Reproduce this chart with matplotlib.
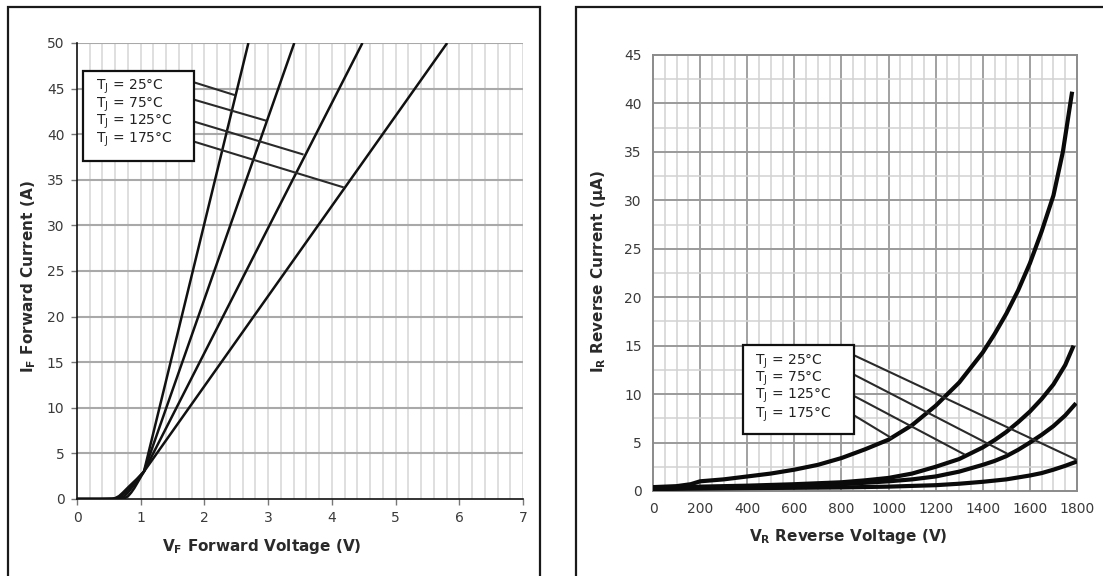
import numpy as np
import matplotlib
matplotlib.use('Agg')
import matplotlib.pyplot as plt
from matplotlib.patches import Rectangle

# forward characteristic, V_F (V) vs I_F (A)
temps = ['25', '75', '125', '175']
vf_25 = [0, 0.5, 0.7, 0.75, 0.8, 0.85, 0.9, 0.95, 1.0, 1.05, 2.69]
if_25 = [0, 0, 0.02, 0.1, 0.3, 0.7, 1.2, 1.8, 2.4, 3.0, 50]
vf_75 = [0, 0.45, 0.65, 0.7, 0.75, 0.8, 0.88, 0.96, 1.05, 3.41]
if_75 = [0, 0, 0.02, 0.12, 0.35, 0.7, 1.4, 2.2, 3.0, 50]
vf_125 = [0, 0.4, 0.6, 0.65, 0.7, 0.76, 0.85, 0.95, 1.05, 4.48]
if_125 = [0, 0, 0.02, 0.12, 0.35, 0.7, 1.4, 2.2, 3.0, 50]
vf_175 = [0, 0.35, 0.55, 0.6, 0.66, 0.72, 0.82, 0.94, 1.05, 5.81]
if_175 = [0, 0, 0.02, 0.1, 0.32, 0.7, 1.4, 2.2, 3.0, 50]

# leader lines left chart: start on box edge, end on curve
lead_l_start = [(1.83, 45.7), (1.83, 43.8), (1.83, 41.4), (1.83, 39.2)]
lead_l_end = [(2.47, 44.3), (2.96, 41.5), (3.54, 37.8), (4.17, 34.2)]

# reverse characteristic, V_R (V) vs I_R (uA)
vr_25 = [0, 200, 400, 600, 800, 1000, 1200, 1300, 1400, 1500, 1600, 1650, 1700, 1750, 1800]
ir_25 = [0.2, 0.25, 0.3, 0.33, 0.37, 0.45, 0.6, 0.75, 0.95, 1.2, 1.6, 1.85, 2.2, 2.6, 3.05]
vr_75 = [0, 200, 400, 600, 800, 1000, 1100, 1200, 1300, 1400, 1450, 1500, 1550, 1600,
         1650, 1700, 1750, 1790]
ir_75 = [0.25, 0.35, 0.45, 0.55, 0.7, 1.0, 1.2, 1.5, 2.0, 2.7, 3.1, 3.6, 4.25, 5.0,
         5.8, 6.7, 7.8, 8.9]
vr_125 = [0, 200, 400, 600, 800, 900, 1000, 1100, 1200, 1300, 1400, 1450, 1500, 1550,
          1600, 1650, 1700, 1750, 1782]
ir_125 = [0.3, 0.45, 0.55, 0.7, 0.9, 1.1, 1.35, 1.8, 2.5, 3.3, 4.5, 5.25, 6.1, 7.1,
          8.2, 9.5, 11.0, 13.0, 14.8]
vr_175 = [0, 100, 160, 200, 300, 400, 500, 600, 700, 800, 900, 1000, 1100, 1200,
          1300, 1400, 1450, 1500, 1550, 1600, 1650, 1700, 1740, 1778]
ir_175 = [0.4, 0.5, 0.7, 1.0, 1.2, 1.5, 1.8, 2.2, 2.7, 3.4, 4.3, 5.3, 6.8, 8.8,
          11.2, 14.3, 16.2, 18.3, 20.7, 23.5, 26.8, 30.5, 35.0, 41.0]

lead_r_start = [(854, 14.0), (854, 12.0), (854, 9.8), (854, 7.8)]
lead_r_end = [(1800, 3.2), (1500, 3.9), (1320, 3.8), (1010, 5.5)]

W, H = 1103, 576
fig = plt.figure(figsize=(W / 100, H / 100), dpi=100)
plt.rcParams['font.family'] = 'DejaVu Sans'

def fx(px):
    return px / W

def fy(py):
    return 1 - py / H

# outer frames of the two panels
fig.patches.append(Rectangle((fx(8), -0.2), fx(540 - 8), fy(7) + 0.2, transform=fig.transFigure,
                             fill=False, ec='#1a1a1a', lw=1.6))
fig.patches.append(Rectangle((fx(576), -0.2), 1.0, fy(7) + 0.2, transform=fig.transFigure,
                             fill=False, ec='#1a1a1a', lw=1.6))

tick_col = '#3a3a3a'
lab = [r'T$_\mathregular{J}$ = ' + t + '°C' for t in temps]

# ---------------- left chart ----------------
ax = fig.add_axes([fx(77), fy(499), fx(523 - 77), (499 - 43) / H])
ax.set_xlim(0, 7)
ax.set_ylim(0, 50)
for v in np.arange(0.2, 7.01, 0.2):
    ax.axvline(v, color='#d6d6d6', lw=1.1, zorder=0)
for v in np.arange(5, 50.1, 5):
    ax.axhline(v, color='#a9a9a9', lw=1.5, zorder=0)
ax.set_xticks(np.arange(0, 8, 1))
ax.set_yticks(np.arange(0, 51, 5))
for s in ['top', 'right']:
    ax.spines[s].set_visible(False)
for s in ['left', 'bottom']:
    ax.spines[s].set_color('#111111')
    ax.spines[s].set_linewidth(1.2)
ax.tick_params(labelsize=10, colors=tick_col, length=4, width=1, pad=5)
ax.tick_params(axis='both', color='#777777')

for v, i in [(vf_25, if_25), (vf_75, if_75), (vf_125, if_125), (vf_175, if_175)]:
    ax.plot(v, i, color='#111111', lw=1.8, solid_capstyle='butt', zorder=3)
for (x0, y0), (x1, y1) in zip(lead_l_start, lead_l_end):
    ax.plot([x0, x1], [y0, y1], color='#2a2a2a', lw=1.5, zorder=3)
ax.add_patch(Rectangle((0.09, 37.1), 1.83 - 0.09, 46.9 - 37.1, fc='white', ec='#111111',
                       lw=1.6, zorder=4))
for k, yy in enumerate([45.2, 43.2, 41.3, 39.4]):
    ax.text(0.3, yy, lab[k], fontsize=10, color='#222222', va='center', ha='left', zorder=5)

fig.text(fx(262), fy(546), r'V$_\mathregular{F}$ Forward Voltage (V)', fontsize=11,
         fontweight='bold', color='#2a2a2a', ha='center', va='center')
fig.text(fx(29), fy(277), r'I$_\mathregular{F}$ Forward Current (A)', fontsize=11,
         fontweight='bold', color='#2a2a2a', ha='center', va='center', rotation=90)

# ---------------- right chart ----------------
ax2 = fig.add_axes([fx(653), fy(491), fx(1077 - 653), (491 - 55) / H])
ax2.set_xlim(0, 1800)
ax2.set_ylim(0, 45)
for v in np.arange(50, 1800, 50):
    if v % 200 == 0:
        ax2.axvline(v, color='#9a9a9a', lw=1.3, zorder=0)
    else:
        ax2.axvline(v, color='#d2d2d2', lw=1.1, zorder=0)
for v in np.arange(2.5, 45, 2.5):
    if v % 5 == 0:
        ax2.axhline(v, color='#9a9a9a', lw=1.4, zorder=0)
    else:
        ax2.axhline(v, color='#d2d2d2', lw=1.1, zorder=0)
ax2.set_xticks(np.arange(0, 1801, 200))
ax2.set_yticks(np.arange(0, 46, 5))
for s in ax2.spines.values():
    s.set_color('#8a8a8a')
    s.set_linewidth(1.4)
ax2.tick_params(labelsize=10, colors=tick_col, length=0, pad=8)

for v, i in [(vr_25, ir_25), (vr_75, ir_75), (vr_125, ir_125), (vr_175, ir_175)]:
    ax2.plot(v, i, color='#0a0a0a', lw=3, zorder=3)
for (x0, y0), (x1, y1) in zip(lead_r_start, lead_r_end):
    ax2.plot([x0, x1], [y0, y1], color='#2a2a2a', lw=1.5, zorder=3)
ax2.add_patch(Rectangle((383, 5.9), 854 - 383, 15.1 - 5.9, fc='white', ec='#111111',
                        lw=1.6, zorder=4))
for k, yy in enumerate([13.3, 11.6, 9.8, 7.9]):
    ax2.text(431, yy, lab[k], fontsize=10, color='#222222', va='center', ha='left', zorder=5)

fig.text(fx(848), fy(536), r'V$_\mathregular{R}$ Reverse Voltage (V)', fontsize=11,
         fontweight='bold', color='#2a2a2a', ha='center', va='center')
fig.text(fx(598), fy(272), r'I$_\mathregular{R}$ Reverse Current (µA)', fontsize=11,
         fontweight='bold', color='#2a2a2a', ha='center', va='center', rotation=90)

fig.savefig('out.png', dpi=100)
